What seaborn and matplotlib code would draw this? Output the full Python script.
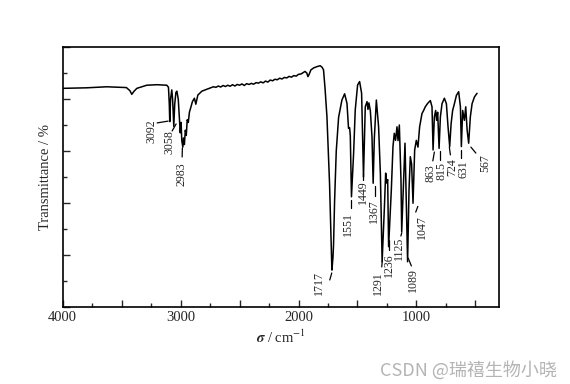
import matplotlib
matplotlib.use("Agg")
import matplotlib.pyplot as plt
import seaborn as sns
import pandas as pd
from matplotlib.ticker import MultipleLocator, FuncFormatter

# ---- data ----
wavenumber = [4000, 3800, 3626, 3500, 3460, 3430, 3414, 3395, 3371, 3287, 3200, 3117,
              3103, 3096, 3092, 3085, 3075, 3068, 3058, 3050, 3040, 3032, 3020, 3010,
              3003, 2996, 2990, 2981, 2975, 2968, 2960, 2952, 2944, 2935, 2925, 2912,
              2900, 2883, 2871, 2854, 2820, 2792, 2722,
              2700, 2680, 2660, 2640, 2620, 2600, 2580, 2560, 2540, 2520, 2500, 2480,
              2460, 2440, 2420, 2400, 2380, 2360, 2340, 2320, 2300, 2280, 2260, 2240,
              2220, 2200, 2180, 2160, 2140, 2120, 2100, 2080, 2060, 2040, 2020, 2000,
              1980, 1960, 1945, 1930, 1920, 1910, 1895, 1870, 1840, 1816, 1800, 1788,
              1775, 1759, 1748, 1737, 1725, 1717, 1708, 1703, 1694, 1680, 1660, 1632,
              1609, 1589, 1576, 1567, 1561, 1551, 1533, 1519, 1499, 1482, 1465, 1449,
              1434, 1419, 1411, 1403, 1391, 1377, 1367, 1357, 1340, 1321, 1306, 1291,
              1272, 1261, 1253, 1244, 1236, 1213, 1199, 1188, 1177, 1165, 1156, 1145,
              1131, 1125, 1109, 1097, 1086, 1075, 1063, 1052, 1041, 1029, 1015,
              1001, 987, 973, 953, 939, 925, 905, 882, 868, 859, 848, 837, 829, 820,
              808, 797, 783, 763, 746, 732, 718, 706, 693, 678, 661, 642, 627, 619,
              608, 593, 582, 570, 557, 543, 528, 508, 486]
transmittance = [84.1, 84.3, 84.7, 84.5, 84.4, 83.2, 81.8, 83.0, 84.1, 85.3, 85.5, 85.3,
                 84.5, 78.0, 71.3, 80.0, 83.5, 80.0, 69.5, 78.0, 82.5, 83.0, 80.0, 72.0,
                 67.0, 71.0, 64.0, 61.5, 65.0, 62.5, 68.0, 66.0, 72.0, 71.0, 75.0, 77.0,
                 79.0, 80.3, 78.0, 81.5, 83.0, 83.5, 84.7,
                 84.5, 85.0, 84.6, 85.2, 84.8, 85.3, 84.9, 85.5, 85.0, 85.6, 85.3, 85.8,
                 85.2, 85.9, 85.6, 86.0, 85.7, 86.3, 86.1, 86.6, 86.2, 86.9, 86.5, 87.3,
                 87.0, 87.6, 87.4, 88.0, 87.7, 88.3, 88.1, 88.7, 88.4, 89.0, 88.8, 89.5,
                 89.6, 90.2, 90.6, 90.0, 88.6, 89.5, 91.2, 92.0, 92.5, 92.8, 92.2, 91.2,
                 84.0, 73.2, 60.0, 47.6, 28.0, 14.2, 19.0, 24.0, 41.0, 60.0, 73.0, 79.6,
                 82.0, 78.3, 68.7, 69.0, 66.0, 42.4, 59.0, 75.8, 85.4, 86.7, 82.2, 50.0,
                 77.0, 79.0, 76.0, 78.5, 75.5, 65.5, 47.6, 65.0, 79.6, 69.3, 51.5, 17.4,
                 38.0, 51.5, 47.7, 49.0, 23.2, 45.0, 61.7, 66.8, 64.1, 69.3, 64.0, 70.0,
                 48.7, 29.0, 48.7, 63.0, 41.0, 17.4, 45.0, 57.8, 55.0, 39.9, 60.4,
                 64.1, 61.5, 69.3, 74.4, 75.6, 77.0, 78.3, 79.4, 77.0, 60.4, 73.1, 75.6, 71.8, 74.9,
                 61.0, 73.1, 78.2, 80.3, 78.2, 69.3, 61.7, 70.5, 75.6, 78.2, 81.4, 82.8, 77.0, 61.7,
                 75.6, 71.8, 77.0, 68.0, 63.0, 73.1, 78.2, 80.8, 82.2]

peak_labels = ["3092", "3058", "2983", "1717", "1551", "1449", "1367", "1291", "1236",
               "1125", "1089", "1047", "863", "815", "724", "631", "567"]
x_tick_values = [4000, 3000, 2000, 1000]

# ---- layout of annotations (text centre, leader start, leader end) ----
label_layout = [
    ((3250, 67.5), (3199, 70.8), (3106, 71.5)),
    ((3098, 63.3), (3072, 67.7), (3038, 70.4)),
    ((2990, 51.2), (2987, 57.7), (2985, 61.2)),
    ((1824, 9.2), (1735, 10.4), (1718, 13.1)),
    ((1582, 31.9), (1553, 38.1), (1553, 41.2)),
    ((1455, 44.2), (1455, 48.8), (1455, 51.5)),
    ((1357, 36.9), (1353, 42.7), (1353, 46.5)),
    ((1323, 9.2), (1294, 15.4), (1290, 17.7)),
    ((1230, 16.2), (1230, 21.9), (1230, 25.8)),
    ((1145, 22.5), (1132, 27.3), (1124, 28.6)),
    ((1026, 10.4), (1043, 15.8), (1070, 18.8)),
    ((950, 30.8), (1006, 36.5), (988, 38.7)),
    ((879, 51.5), (861, 56.2), (848, 59.6)),
    ((790, 52.3), (801, 56.5), (801, 60.0)),
    ((700, 53.8), (712, 58.5), (721, 61.5)),
    ((598, 53.1), (619, 57.3), (619, 60.4)),
    ((420, 55.4), (496, 59.2), (538, 61.5)),
]

sns.set_style("ticks")
plt.rcParams["font.family"] = ["Liberation Serif", "DejaVu Serif"]
plt.rcParams["mathtext.fontset"] = "stix"

fig = plt.figure(figsize=(5.7, 3.84), dpi=100)
ax = fig.add_axes([0.110, 0.2005, 0.7654, 0.6771])

df = pd.DataFrame({"wn": wavenumber, "T": transmittance})
sns.lineplot(data=df, x="wn", y="T", sort=False, estimator=None, color="black",
             linewidth=1.1, ax=ax)

ax.set_xlim(4000, 300)
ax.set_ylim(0, 100)

ax.xaxis.set_major_locator(MultipleLocator(500))
ax.xaxis.set_minor_locator(MultipleLocator(250))
ax.xaxis.set_major_formatter(FuncFormatter(
    lambda v, p: f"{int(round(v))}" if int(round(v)) in x_tick_values else ""))
ax.yaxis.set_major_locator(MultipleLocator(20))
ax.yaxis.set_minor_locator(MultipleLocator(10))
ax.tick_params(which="major", direction="in", length=5, width=1.0, labelsize=10.5,
               top=False, right=False, pad=3)
ax.tick_params(which="minor", direction="in", length=3, width=1.0, top=False, right=False)
ax.tick_params(axis="y", which="both", labelleft=False)
for s in ax.spines.values():
    s.set_linewidth(1.2)
    s.set_color("black")

ax.set_xlabel(r"$\boldsymbol{\sigma}$ / cm$^{-1}$", fontsize=10.5, labelpad=3)
ax.set_ylabel("Transmittance / %", fontsize=10.5, labelpad=8)

for lab, (tpos, l0, l1) in zip(peak_labels, label_layout):
    ax.text(tpos[0], tpos[1], lab, rotation=90, ha="center", va="center", fontsize=8.6)
    ax.plot([l0[0], l1[0]], [l0[1], l1[1]], color="black", linewidth=0.9)

fig.text(0.977, 0.036, "CSDN @瑞禧生物小晓", ha="right", va="center", fontsize=13,
         color="#b4b4b4", family=["Noto Sans CJK SC", "DejaVu Sans"])

fig.savefig("out.png", dpi=100)
